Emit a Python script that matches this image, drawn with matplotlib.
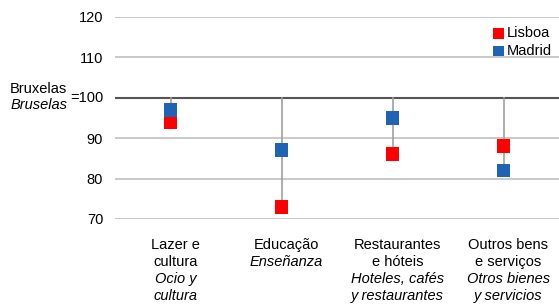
import matplotlib.pyplot as plt

plt.rcParams['font.family'] = ['Liberation Sans', 'DejaVu Sans']

categorias_pt = [["Lazer e", "cultura"], ["Educação"], ["Restaurantes", "e hóteis"], ["Outros bens", "e serviços"]]
categorias_es = [["Ocio y", "cultura"], ["Enseñanza"], ["Hoteles, cafés", "y restaurantes"], ["Otros bienes", "y servicios"]]
lisboa = [94, 73, 86, 88]
madrid = [97, 87, 95, 82]
yticks = [70, 80, 90, 110, 120]

fs = 10.5
fig = plt.figure(figsize=(5.59, 3.04), dpi=100)
ax = fig.add_axes([115 / 559, 1 - 219 / 304, 444 / 559, 202 / 304])

xs = list(range(len(lisboa)))
ax.set_xlim(-0.5, len(lisboa) - 0.5)
ax.set_ylim(70, 120)

# grelha
for t in yticks:
    ax.axhline(t, color='#c0c0c0', lw=1.2, zorder=1)
ax.axhline(100, color='#555555', lw=1.5, zorder=2)

# linhas verticais desde 100
for x, a, b in zip(xs, lisboa, madrid):
    ax.plot([x, x], [100, min(a, b)], color='#a0a0a0', lw=1.2, zorder=3)

ax.scatter(xs, lisboa, marker='s', s=100, color='#ff0000', zorder=4, label='Lisboa', edgecolors='none')
ax.scatter(xs, madrid, marker='s', s=100, color='#1f64b4', zorder=5, label='Madrid', edgecolors='none')

for s in ax.spines.values():
    s.set_visible(False)
ax.set_xticks([])
ax.set_yticks(yticks)
ax.set_yticklabels([str(t) for t in yticks], fontsize=fs)
ax.tick_params(axis='y', length=0, pad=8.5)

# etiqueta Bruxelas = 100
ax.annotate("=100", xy=(0, 100), xycoords=('axes fraction', 'data'), xytext=(-8.5, 0),
            textcoords='offset points', ha='right', va='center', fontsize=fs)
ax.annotate("Bruxelas", xy=(0, 100), xycoords=('axes fraction', 'data'), xytext=(-34.5, 6.5),
            textcoords='offset points', ha='right', va='center', fontsize=fs)
ax.annotate("Bruselas", xy=(0, 100), xycoords=('axes fraction', 'data'), xytext=(-34.5, -5.5),
            textcoords='offset points', ha='right', va='center', fontsize=fs, style='italic')

# etiquetas das categorias
for x, pt, es in zip(xs, categorias_pt, categorias_es):
    linhas = [(t, 'normal') for t in pt] + [(t, 'italic') for t in es]
    for i, (t, st) in enumerate(linhas):
        ax.annotate(t, xy=(x, 0), xycoords=('data', 'axes fraction'),
                    xytext=(3.5, -18.7 - i * 12.3), textcoords='offset points',
                    ha='center', va='center', fontsize=fs, style=st)

leg = ax.legend(loc='upper right', bbox_to_anchor=(1.0, 0.99), frameon=False, fontsize=fs,
                handlelength=0.7, handletextpad=0.2, labelspacing=0.25, borderpad=0.2,
                markerscale=0.75, borderaxespad=0.3)

fig.savefig('out.png', dpi=100)
